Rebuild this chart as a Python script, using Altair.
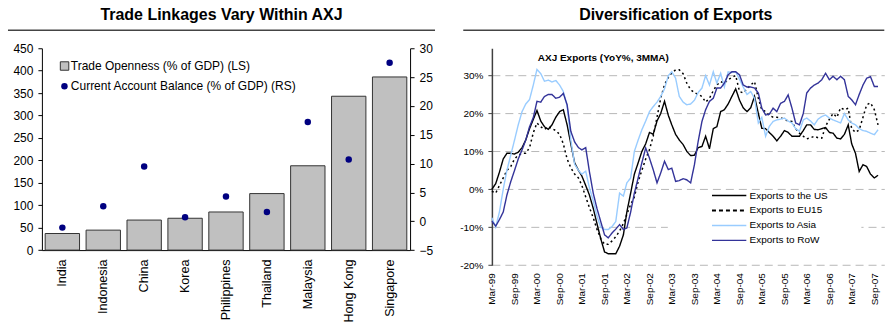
import altair as alt
import pandas as pd

FONT = "Liberation Sans"

# ---------------- Left panel data ----------------
countries = ["India", "Indonesia", "China", "Korea", "Philippines",
             "Thailand", "Malaysia", "Hong Kong", "Singapore"]
trade_openness = [37, 44.5, 67, 71, 85, 126, 188, 343, 386]
current_account = [-1.1, 2.6, 9.5, 0.7, 4.3, 1.6, 17.2, 10.7, 27.5]

# ---------------- Right panel data (monthly, Mar-99 .. Oct-07) ----------------
us = [0, 1.5, 4.5, 8, 9.5, 9.5, 9.3, 9.8, 11, 13, 16, 18.5, 20.8, 18, 16.5, 15.8,
      17, 19, 20.5, 21, 17, 12, 7, 5, 3.5, 1, -1.5, -5, -9, -13, -16.5, -17, -17,
      -17, -15, -12, -6, -1, 4, 7, 10, 12, 15, 14.5, 18, 20, 23.2, 19.5, 17, 14.5,
      13, 11.8, 10, 8.9, 9, 11, 11.3, 14, 10.7, 16, 16.5, 20.5, 21, 22.5, 24.5,
      26.5, 23.5, 21.5, 20.5, 21.5, 24.5, 20, 16.1, 16, 15, 14, 12.8, 14, 15.5, 15,
      14, 14, 14, 15.5, 17, 17, 15.8, 15.7, 16, 16.3, 15, 14.8, 13.5, 13.3, 14.5,
      17, 12, 9.5, 4.7, 6.5, 6, 4, 3, 3.7]
eu15 = [-0.5, -1, 1, 3, 5, 6, 8, 9, 9.5, 9.5, 11, 15, 17.5, 16.5, 15.8, 16.5, 16,
        15.5, 14.5, 12, 8, 5.7, 4, 3, 1, -2, -4.8, -7.5, -10.5, -13, -14.5, -14.5,
        -13.6, -12.5, -11, -9, -6.6, -4, -2, 2, 5, 8, 10.5, 14, 19, 24, 27.6, 29.5,
        30.7, 31.5, 31.5, 30.5, 28, 26.3, 25.5, 25, 24.5, 23, 24, 26, 27.5, 28.4, 28,
        28.9, 29.5, 30, 25.8, 25.4, 26.5, 27.5, 28.4, 24, 21, 20.5, 19.5, 19, 19,
        18.9, 18.5, 18, 17.9, 16, 14.8, 14, 13.3, 13.6, 14, 13.6, 13.5, 16.6, 18.5,
        20, 19, 21.5, 21, 21.4, 16, 15, 15.7, 19, 22.3, 22.8, 21, 17]
asia = [-7.5, -10, -6, 0, 5, 9, 13, 17, 20.5, 22.5, 23.7, 27.6, 31.6, 30.5, 28.5,
        28.8, 28.3, 28.7, 27.5, 25.8, 22, 13, 6.6, 5, 4, 4.8, 0.4, -3, -7, -10,
        -10.6, -10.6, -9.8, -8.5, -1, -1.8, 1.7, 3, 10, 13, 15.7, 18, 20.5, 21.8,
        23, 24.5, 26.5, 30, 31, 29.3, 24.5, 23, 22.3, 22.5, 23.5, 25.5, 26.7, 30,
        27.5, 31, 28, 30.6, 27, 31, 30.8, 31, 29, 27, 25, 25.8, 24, 17.5, 19, 14,
        16.6, 17.9, 18.3, 18.5, 18.8, 18, 17.5, 16, 15.3, 18.3, 18.8, 18, 17, 18.5,
        19.2, 19.6, 18.8, 18.3, 17.9, 17.5, 20, 18.3, 17.5, 17, 16, 15.5, 15.3,
        14.8, 14.4, 15.7]
row = [-8.4, -9.7, -8, -6, -1.5, 2, 5, 8, 10.4, 13, 16.5, 19, 23.2, 23, 24.5, 25,
       25, 24, 24.3, 25.3, 22.3, 15.3, 12.5, 11, 10.4, 11, 4.7, -1, -5, -8.5, -12,
       -12.8, -11.5, -10.5, -9.3, -10.6, -10.2, -6, -1, 3, 7, 10.9, 8.2, 5.2, 1.7,
       4.3, 7.4, 5.2, 5.6, 2.1, 2.3, 2.8, 2.5, 1.7, 6.5, 12.6, 17.9, 21, 23.2, 24,
       26.7, 26.7, 28, 30.2, 31, 31, 30.2, 27.5, 27, 27, 26.7, 25.4, 21.4, 19.6,
       19.8, 21.4, 20.5, 22.7, 23.2, 24.9, 21.4, 17.5, 17, 20, 25.4, 26.7, 27.5, 28,
       28.9, 30.6, 28.9, 29.8, 28.9, 29.8, 28.9, 24.5, 23.6, 22.3, 25, 27.5, 29.3,
       29.7, 27.1, 27.1]

series_names = ["Exports to the US", "Exports to EU15", "Exports to Asia", "Exports to RoW"]
series_colors = ["#000000", "#000000", "#99ccff", "#333399"]
series_dash = [[1, 0], [2, 3], [1, 0], [1, 0]]

months = pd.date_range("1999-03-01", periods=len(us), freq="MS")
month_str = [d.strftime("%Y-%m-%dT00:00:00") for d in months]
tick_months = pd.date_range("1999-03-01", "2007-09-01", freq="6MS")

left_title_text = "Trade Linkages Vary Within AXJ"
right_title_text = "Diversification of Exports"
inner_title_text = "AXJ Exports (YoY%, 3MMA)"
left_legend_labels = ["Trade Openness (% of GDP) (LS)", "Current Account Balance (% of GDP) (RS)"]

# ---------------- Left panel ----------------
W1, H1 = 369, 202.3
one = pd.DataFrame({"a": [0]})
bar_df = pd.DataFrame({"country": countries, "openness": trade_openness,
                       "ca": current_account})

xcat = alt.X("country:N", sort=countries,
             scale=alt.Scale(paddingInner=0.16, paddingOuter=0.08),
             axis=alt.Axis(title=None, labelAngle=270, ticks=False, tickSize=0,
                           labelPadding=9, labelFontSize=12.6, labelColor="black",
                           domainColor="black", domainWidth=1))

bars = alt.Chart(bar_df).mark_bar(color="#c0c0c0", stroke="#333333", strokeWidth=1).encode(
    x=xcat,
    y=alt.Y("openness:Q", scale=alt.Scale(domain=[0, 450], nice=False),
            axis=alt.Axis(title=None, orient="left", values=list(range(0, 451, 50)),
                          tickSize=4, labelPadding=5, grid=False, labelFontSize=12,
                          labelColor="black", domainColor="black", tickColor="black")))

points = alt.Chart(bar_df).mark_circle(size=42, color="#000080", opacity=1).encode(
    x=xcat,
    y=alt.Y("ca:Q", scale=alt.Scale(domain=[-5, 30], nice=False, zero=False),
            axis=alt.Axis(title=None, orient="right", values=list(range(-5, 31, 5)),
                          tickSize=4, labelPadding=5, grid=False, labelFontSize=12,
                          labelColor="black", domainColor="black", tickColor="black")))

anchor = alt.Chart(one).mark_rule(color="white", strokeWidth=1).encode(
    x=alt.value(-40.5), x2=alt.value(-39.5), y=alt.value(-46.2))

left_title = alt.Chart(pd.DataFrame({"t": [left_title_text]})).mark_text(
    fontSize=16, fontWeight="bold", align="center", baseline="alphabetic", color="black"
).encode(x=alt.value(180), y=alt.value(-28.2), text="t:N")

left_rule = alt.Chart(one).mark_rule(color="#444444", strokeWidth=1.5).encode(
    x=alt.value(-34), x2=alt.value(394), y=alt.value(-18))

leg_sq = alt.Chart(one).mark_square(size=72, fill="#c0c0c0", stroke="#333333",
                                    strokeWidth=1, opacity=1).encode(
    x=alt.value(22.7), y=alt.value(17.8))
leg_sq_t = alt.Chart(pd.DataFrame({"t": [left_legend_labels[0]]})).mark_text(
    fontSize=12, align="left", baseline="middle", color="black").encode(
    x=alt.value(29), y=alt.value(17.8), text="t:N")
leg_ci = alt.Chart(one).mark_circle(size=42, color="#000080", opacity=1).encode(
    x=alt.value(22.6), y=alt.value(38))
leg_ci_t = alt.Chart(pd.DataFrame({"t": [left_legend_labels[1]]})).mark_text(
    fontSize=12, align="left", baseline="middle", color="black").encode(
    x=alt.value(29), y=alt.value(38), text="t:N")

left = alt.layer(anchor, left_title, left_rule, bars, points,
                 leg_sq, leg_sq_t, leg_ci, leg_ci_t).resolve_scale(
    y="independent").properties(width=W1, height=H1)

# ---------------- Right panel ----------------
W2, H2 = 393.3, 217.4
line_df = pd.DataFrame({
    "date": month_str * 4,
    "value": us + eu15 + asia + row,
    "series": sum([[s] * len(us) for s in series_names], []),
})

xdate = alt.X("date:T",
              scale=alt.Scale(domain=[alt.DateTime(year=1999, month=3, date=1),
                                      alt.DateTime(year=2007, month=11, date=21)]),
              axis=alt.Axis(title=None, values=[alt.DateTime(year=d.year, month=d.month, date=1)
                                                for d in tick_months],
                            format="%b-%y", labelAngle=270, domain=False, ticks=False,
                            tickSize=0, labelPadding=7.5, labelFontSize=10,
                            labelColor="black", grid=False))
yval = alt.Y("value:Q", scale=alt.Scale(domain=[-20, 37.2], nice=False, zero=False),
             axis=alt.Axis(title=None, values=[-20, -10, 0, 10, 20, 30],
                           labelExpr="datum.value + '%'", grid=True, gridDash=[8, 5],
                           gridColor="#b8b8b8", gridWidth=1, domainColor="#404040",
                           domainWidth=1.5, tickColor="#404040", tickSize=4,
                           labelPadding=5, labelFontSize=10, labelColor="black"))

line_layers = []
for name, col, dash in zip(series_names, series_colors, series_dash):
    sw = 1.5 if dash != [1, 0] else 1.4
    line_layers.append(
        alt.Chart(line_df).transform_filter(alt.datum.series == name)
        .mark_line(color=col, strokeWidth=sw, strokeDash=dash)
        .encode(x=xdate, y=yval))

right_title = alt.Chart(pd.DataFrame({"t": [right_title_text]})).mark_text(
    fontSize=16, fontWeight="bold", align="center", baseline="alphabetic", color="black"
).encode(x=alt.value(184.3), y=alt.value(-28.2), text="t:N")
right_rule = alt.Chart(one).mark_rule(color="#444444", strokeWidth=1.5).encode(
    x=alt.value(-28.7), x2=alt.value(393.3), y=alt.value(-18))
inner_title = alt.Chart(pd.DataFrame({"t": [inner_title_text]})).mark_text(
    fontSize=10, fontWeight="bold", align="left", baseline="middle", color="black"
).encode(x=alt.value(46), y=alt.value(9.3), text="t:N")

leg_box = alt.Chart(one).mark_rect(fill="white").encode(
    x=alt.value(176.3), x2=alt.value(370.3), y=alt.value(144.3), y2=alt.value(200.3))

leg_layers = [leg_box]
for k, (name, col, dash) in enumerate(zip(series_names, series_colors, series_dash)):
    yy = 147.6 + 15 * k
    ldash = [4, 3] if dash != [1, 0] else [1, 0]
    lw = 2 if dash != [1, 0] else 1.4
    leg_layers.append(alt.Chart(one).mark_rule(color=col, strokeWidth=lw, strokeDash=ldash).encode(
        x=alt.value(220.6), x2=alt.value(255), y=alt.value(yy)))
    leg_layers.append(alt.Chart(pd.DataFrame({"t": [name]})).mark_text(
        fontSize=10, align="left", baseline="middle", color="black").encode(
        x=alt.value(258.3), y=alt.value(yy), text="t:N"))

right = alt.layer(*line_layers, right_title, right_rule, inner_title,
                  *leg_layers).properties(width=W2, height=H2)

chart = alt.hconcat(left, right, spacing=82, bounds="flush", padding=0,
                    background="white").configure_view(
    stroke="transparent").configure_axis(labelFont=FONT).configure_text(font=FONT)

chart.save("out.html", embed_options={"renderer": "svg", "actions": False})
